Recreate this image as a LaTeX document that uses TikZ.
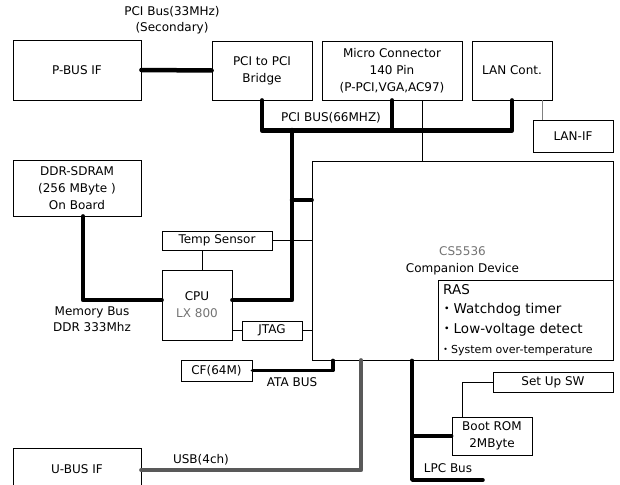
\documentclass[tikz,border=0pt]{standalone}
\usepackage{fontspec}
\setmainfont{DejaVu Sans}
\newfontfamily\cjk{Noto Sans CJK JP}
\definecolor{txtgray}{gray}{0.45}
\definecolor{usbgray}{gray}{0.35}
\begin{document}
\begin{tikzpicture}[x=1pt,y=-1pt,
  box/.style={draw, line width=0.8pt, inner sep=0pt, align=center, font=\fontsize{12}{17}\selectfont},
  lbl/.style={inner sep=0pt, align=center, font=\fontsize{12}{16}\selectfont},
  wire/.style={line width=0.8pt},
  bus/.style={line width=4.5pt, line cap=round, line join=round},
  sbus/.style={line width=3.5pt, line cap=round, line join=round},
  gbus/.style={line width=4.5pt, color=usbgray, line cap=round, line join=round},
  rasline/.style={inner sep=0pt, anchor=west}]
\useasboundingbox (0,0) rectangle (620,484);
\clip (0,0) rectangle (620,484);

% boxes
\node[box, minimum width=128pt, minimum height=60pt] (pbus) at (77,70) {P-BUS IF};
\node[box, minimum width=100pt, minimum height=59pt] (bridge) at (262,70.5) {PCI to PCI\\Bridge};
\node[box, minimum width=140pt, minimum height=59pt] (micro) at (392,70.5) {Micro Connector\\140 Pin\\(P-PCI,VGA,AC97)};
\node[box, minimum width=80pt, minimum height=59pt] (lanc) at (512,70.5) {LAN Cont.};
\node[box, minimum width=80pt, minimum height=32pt] (lanif) at (573,136) {LAN-IF};
\node[box, minimum width=128pt, minimum height=56pt] (ddr) at (77,188) {DDR-SDRAM\\(256 MByte )\\On Board};
\node[box, minimum width=110pt, minimum height=19pt] (temp) at (217,240.5) {Temp Sensor};
\node[box, minimum width=70pt, minimum height=70pt] (cpu) at (197,305) {CPU\\{\color{txtgray}LX 800}};
\node[box, minimum width=60pt, minimum height=19pt] (jtag) at (272,330.5) {JTAG};
\node[box, minimum width=301pt, minimum height=199pt] (comp) at (462.5,260.5) {{\color{txtgray}CS5536}\\Companion Device};
\node[draw, line width=0.8pt, minimum width=175pt, minimum height=80pt, inner sep=0pt] (ras) at (525.5,320) {};
\node[box, minimum width=71pt, minimum height=21pt] (cf) at (216.5,370.5) {CF(64M)};
\node[box, minimum width=128pt, minimum height=42pt] (ubus) at (77,469) {U-BUS IF};
\node[box, minimum width=80pt, minimum height=38pt] (boot) at (492,436) {Boot ROM\\2MByte};
\node[box, minimum width=120pt, minimum height=20pt] (setup) at (553,382) {Set Up SW};

% RAS text
\node[rasline, font=\fontsize{13.5}{15}\selectfont] (rast) at (443,290) {RAS};
\node[rasline, font=\fontsize{13.5}{15}\selectfont] (ras1) at (440,310) {{\cjk ・}Watchdog timer};
\node[rasline, font=\fontsize{13.5}{15}\selectfont] (ras2) at (440,330) {{\cjk ・}Low-voltage detect};
\node[rasline, font=\fontsize{11}{12}\selectfont] (ras3) at (440,351) {{\cjk ・}System over-temperature};

% labels
\node[lbl] (l33) at (172,20) {PCI Bus(33MHz)\\(Secondary)};
\node[lbl] (l66) at (331,118) {PCI BUS(66MHZ)};
\node[lbl] (lmem) at (92,319.5) {Memory Bus\\DDR 333Mhz};
\node[lbl] (lata) at (292,382) {ATA BUS};
\node[lbl] (lusb) at (201,460) {USB(4ch)};
\node[lbl] (llpc) at (448,468) {LPC Bus};

% coordinates
\coordinate (pj) at (292,130);
\coordinate (cj) at (292,200);
\coordinate (lpcend) at (483,480);

% buses
\draw[bus] (pbus.east) -- (bridge.west);
\draw[bus] (bridge.south) -- ++(0,30) -| (lanc.south);
\draw[bus] (micro.south) -- ++(0,30);
\draw[bus] ([yshift=5pt]cpu.east) -| (pj);
\draw[bus] (cj) -- (cj -| comp.west);
\draw[bus] ([xshift=6pt]ddr.south) |- ([yshift=5pt]cpu.west);
\draw[sbus] (cf.east) -| (333,0 |- comp.south);
\draw[gbus] ([yshift=-1pt]ubus.east) -| (361,0 |- comp.south);
\draw[sbus] (412,0 |- comp.south) |- (lpcend);
\draw[sbus] (boot.west) -- (412,0 |- boot.west);

% thin wires
\draw[wire] ([xshift=30pt]micro.south) -- ([xshift=30pt]micro.south |- comp.north);
\draw[wire, color=gray] ([xshift=30pt]lanc.south) -- ([xshift=30pt]lanc.south |- lanif.north);
\draw[wire] ([xshift=5pt]cpu.north) -- ([xshift=5pt]cpu.north |- temp.south);
\draw[wire] (temp.east) -- (temp.east -| comp.west);
\draw[wire] (jtag.west) -- (jtag.west -| cpu.east);
\draw[wire] (jtag.east) -- (jtag.east -| comp.west);
\draw[wire] (setup.west) -| ([xshift=-30pt]boot.north);
\end{tikzpicture}
\end{document}
